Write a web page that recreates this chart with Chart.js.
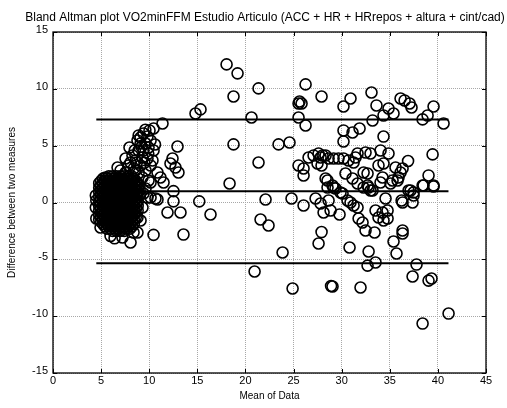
<!DOCTYPE html>
<html>
<head>
<meta charset="utf-8">
<title>Bland Altman VO2minFFM</title>
<script src="https://cdn.jsdelivr.net/npm/chart.js@4.4.0/dist/chart.umd.min.js"></script>
<style>
  body { margin: 0; background: #fff; }
  #plot { display: block; }
</style>
</head>
<body>
<canvas id="plot" width="507" height="408"></canvas>
<script>
var xTicks = [0, 5, 10, 15, 20, 25, 30, 35, 40, 45];
var yTicks = [-15, -10, -5, 0, 5, 10, 15];

// mean difference and limits of agreement (mean +/- 1.96 SD)
var limits = [7.31, 0.99, -5.34];
var limitSpan = [4.5, 41.1];

// [mean of methods, difference] - low VO2 subjects, packed tight
var densePts = [
  [5.8,2.3],[6.2,2.3],[6.6,2.3],[7.0,2.3],[7.4,2.3],[7.8,2.3],[8.2,2.3],
  [5.2,2.1],[5.6,2.1],[6.0,2.1],[6.4,2.1],[6.8,2.1],[7.2,2.1],[7.6,2.1],[8.0,2.1],[8.4,2.1],
  [5.0,1.9],[5.4,1.9],[5.8,1.9],[6.2,1.9],[6.6,1.9],[7.0,1.9],[7.4,1.9],[7.8,1.9],[8.2,1.9],[8.6,1.9],
  [4.8,1.7],[5.2,1.7],[5.6,1.7],[6.0,1.7],[6.4,1.7],[6.8,1.7],[7.2,1.7],[7.6,1.7],[8.0,1.7],[8.4,1.7],[8.8,1.7],
  [5.0,1.5],[5.4,1.5],[5.8,1.5],[6.2,1.5],[6.6,1.5],[7.0,1.5],[7.4,1.5],[7.8,1.5],[8.2,1.5],[8.6,1.5],[9.0,1.5],
  [4.8,1.3],[5.2,1.3],[5.6,1.3],[6.0,1.3],[6.4,1.3],[6.8,1.3],[7.2,1.3],[7.6,1.3],[8.0,1.3],[8.4,1.3],[8.8,1.3],
  [5.0,1.1],[5.4,1.1],[5.8,1.1],[6.2,1.1],[6.6,1.1],[7.0,1.1],[7.4,1.1],[7.8,1.1],[8.2,1.1],[8.6,1.1],[9.0,1.1],
  [4.8,0.9],[5.2,0.9],[5.6,0.9],[6.0,0.9],[6.4,0.9],[6.8,0.9],[7.2,0.9],[7.6,0.9],[8.0,0.9],[8.4,0.9],[8.8,0.9],
  [5.0,0.7],[5.4,0.7],[5.8,0.7],[6.2,0.7],[6.6,0.7],[7.0,0.7],[7.4,0.7],[7.8,0.7],[8.2,0.7],[8.6,0.7],[9.0,0.7],
  [4.8,0.5],[5.2,0.5],[5.6,0.5],[6.0,0.5],[6.4,0.5],[6.8,0.5],[7.2,0.5],[7.6,0.5],[8.0,0.5],[8.4,0.5],[8.8,0.5],
  [5.0,0.3],[5.4,0.3],[5.8,0.3],[6.2,0.3],[6.6,0.3],[7.0,0.3],[7.4,0.3],[7.8,0.3],[8.2,0.3],[8.6,0.3],
  [4.8,0.1],[5.2,0.1],[5.6,0.1],[6.0,0.1],[6.4,0.1],[6.8,0.1],[7.2,0.1],[7.6,0.1],[8.0,0.1],[8.4,0.1],[8.8,0.1],
  [5.0,-0.1],[5.4,-0.1],[5.8,-0.1],[6.2,-0.1],[6.6,-0.1],[7.0,-0.1],[7.4,-0.1],[7.8,-0.1],[8.2,-0.1],[8.6,-0.1],
  [4.8,-0.3],[5.2,-0.3],[5.6,-0.3],[6.0,-0.3],[6.4,-0.3],[6.8,-0.3],[7.2,-0.3],[7.6,-0.3],[8.0,-0.3],[8.4,-0.3],[8.8,-0.3],
  [5.0,-0.5],[5.4,-0.5],[5.8,-0.5],[6.2,-0.5],[6.6,-0.5],[7.0,-0.5],[7.4,-0.5],[7.8,-0.5],[8.2,-0.5],[8.6,-0.5],
  [4.8,-0.7],[5.2,-0.7],[5.6,-0.7],[6.0,-0.7],[6.4,-0.7],[6.8,-0.7],[7.2,-0.7],[7.6,-0.7],[8.0,-0.7],[8.4,-0.7],[8.8,-0.7],
  [5.0,-0.9],[5.4,-0.9],[5.8,-0.9],[6.2,-0.9],[6.6,-0.9],[7.0,-0.9],[7.4,-0.9],[7.8,-0.9],[8.2,-0.9],[8.6,-0.9],
  [4.8,-1.1],[5.2,-1.1],[5.6,-1.1],[6.0,-1.1],[6.4,-1.1],[6.8,-1.1],[7.2,-1.1],[7.6,-1.1],[8.0,-1.1],[8.4,-1.1],
  [5.0,-1.3],[5.4,-1.3],[5.8,-1.3],[6.2,-1.3],[6.6,-1.3],[7.0,-1.3],[7.4,-1.3],[7.8,-1.3],[8.2,-1.3],[8.6,-1.3],
  [4.8,-1.5],[5.2,-1.5],[5.6,-1.5],[6.0,-1.5],[6.4,-1.5],[6.8,-1.5],[7.2,-1.5],[7.6,-1.5],[8.0,-1.5],[8.4,-1.5],
  [5.0,-1.7],[5.4,-1.7],[5.8,-1.7],[6.2,-1.7],[6.6,-1.7],[7.0,-1.7],[7.4,-1.7],[7.8,-1.7],[8.2,-1.7],
  [5.2,-1.9],[5.6,-1.9],[6.0,-1.9],[6.4,-1.9],[6.8,-1.9],[7.2,-1.9],[7.6,-1.9],[8.0,-1.9],[8.4,-1.9],
  [5.4,-2.1],[5.8,-2.1],[6.2,-2.1],[6.6,-2.1],[7.0,-2.1],[7.4,-2.1],[7.8,-2.1],[8.2,-2.1],
  [5.6,-2.3],[6.0,-2.3],[6.4,-2.3],[6.8,-2.3],[7.2,-2.3],[7.6,-2.3],[8.0,-2.3],
  [6.2,-2.5],[6.6,-2.5],[7.0,-2.5],[7.4,-2.5],
  [4.45,0.62],[4.45,-0.44],[4.5,-1.41],[4.94,-2.2],[5.98,-2.95],[6.4,-3.15],[7.22,-3.08],[8.06,-3.52],
  [8.78,-2.64],[9.1,-1.58],[9.3,-0.44],[9.82,0.44],[4.5,0.18],[5.46,2.2],[6.71,3.08],
  [8.26,4.14],[8.89,4.58],[9.41,4.58],[8.58,2.82],[9.1,3.26],[9.62,2.82],[10.14,3.26],[10.34,3.7],
  [7.85,3.26],[7.54,2.64],[8.26,2.11],[8.89,1.5],[9.41,0.79],[7.54,3.87],[7.02,2.82],
  [8.4,3.0],[8.9,2.6],[9.3,2.2],[8.7,3.5],[9.5,3.5],[9.9,4.3],[8.5,4.6],[9.2,4.9],[10.6,5.1],[9.6,6.4],[8.9,5.9]
];

// [mean of methods, difference] - the rest of the sample
var sparsePts = [
  [11.38,6.95],[10.03,6.34],[10.45,6.51],[9.41,6.07],[9.82,5.81],[10.14,5.46],[9.1,5.72],[8.78,5.46],
  [9.62,5.19],[9.93,4.84],[10.45,4.58],[7.95,4.84],[12.94,4.93],[12.42,3.87],[12.21,3.43],[12.73,3.08],
  [13.04,2.64],[11.49,1.76],[12.52,1.0],[10.86,0.26],[10.14,0.44],[11.9,-0.88],[13.25,-0.88],[12.52,0.1],
  [10.45,-2.85],[13.56,-2.82],[15.2,0.1],[14.81,7.83],[15.33,8.19],[8.58,3.7],[8.06,3.52],[9.3,3.96],
  [9.82,3.87],[10.86,2.64],[11.17,2.2],[10.14,1.76],[9.62,1.23],[8.37,-2.64],[8.78,-1.32],[9.1,5.19],
  [10.65,0.35],[9.93,1.94],[16.37,-1.06],
  [18.04,12.15],[19.18,11.36],[21.36,10.04],[18.76,9.33],[26.25,10.39],[27.91,9.33],[25.62,8.89],[25.83,8.71],
  [25.52,8.71],[20.63,7.48],[25.52,7.48],[26.25,6.78],[18.76,5.11],[23.44,5.11],[24.58,5.28],[21.36,3.52],
  [25.52,3.26],[26.04,2.99],[26.04,2.38],[26.56,3.96],[27.08,4.14],[27.6,4.31],[28.01,4.14],[27.49,3.43],
  [27.91,3.26],[28.33,2.11],[18.35,1.67],[22.09,0.26],[24.79,0.35],[21.57,-1.5],[22.4,-2.02],[23.86,-4.4],
  [20.95,-6.07],[24.9,-7.57],[28.9,-7.35],
  [30.19,8.45],[30.92,9.15],[33.1,9.68],[33.62,8.54],[34.35,7.66],[34.87,8.27],[35.39,7.83],[36.12,9.15],
  [36.54,8.98],[37.06,8.71],[37.26,8.36],[38.41,7.31],[38.93,7.66],[39.55,8.45],[40.59,6.95],[33.21,7.22],
  [34.35,5.8],[30.19,6.34],[31.13,6.16],[31.86,6.51],[30.19,5.37],[39.45,4.23],[36.9,3.65],
  [27.81,3.96],[28.33,4.14],[28.64,3.87],[29.16,3.87],[29.67,3.87],[30.19,3.87],[30.71,3.7],[31.24,3.52],
  [31.44,3.96],[31.65,4.31],[32.48,4.4],[33.0,4.31],[34.04,4.58],[34.87,4.31],[34.35,3.43],[33.83,3.26],
  [30.4,2.55],[31.13,2.11],[31.65,1.67],[32.28,2.64],[32.69,2.55],[32.8,1.32],[33.21,1.06],[34.25,2.2],
  [28.53,1.94],[29.05,1.5],[29.36,1.23],[29.88,0.88],
  [35.6,3.08],[36.12,2.64],[36.33,2.99],[35.91,2.2],[35.81,1.94],[35.29,1.94],[35.08,1.67],[39.03,2.38],
  [38.41,1.5],[39.55,1.5],[36.95,1.06],[37.47,0.62],[36.23,0.18],[34.77,-0.7],[34.77,-1.41],[36.33,-2.46],
  [28.53,1.32],[29.16,1.32],[30.09,0.79],[32.28,1.32],[32.69,1.5],[33.0,1.06],[34.04,1.76],[37.16,1.06],
  [37.47,0.88],[38.51,1.5],[39.55,1.41],[27.29,0.35],[27.81,-0.09],[28.12,-0.88],[28.64,0.18],[28.85,-0.7],
  [29.78,-1.06],[26.04,-0.26],[30.92,0.0],[31.65,-0.44],[31.76,-1.41],[32.17,-1.76],[32.48,-2.46],[33.42,-2.64],
  [33.52,-0.7],[34.25,-0.88],[34.35,-1.58],[34.56,0.35],[36.33,0.0],[37.37,0.0],[27.91,-2.6],[27.6,-3.61],
  [30.82,-3.96],[32.8,-4.31],[32.69,-5.55],[33.52,-5.28],[35.39,-3.43],[36.33,-2.73],[35.7,-4.49],[37.78,-5.46],
  [37.37,-6.51],[39.03,-6.87],[39.34,-6.69],[29.05,-7.39],[31.96,-7.48],[41.11,-9.77],[38.41,-10.65],
  [30.61,0.18],[31.24,-0.26],[33.83,-1.32]
];

Chart.defaults.font.family = '"Liberation Sans", Arial, Helvetica, sans-serif';
Chart.defaults.color = '#000';

function toXY(p) { return {x: p[0], y: p[1]}; }

var datasets = [{
  data: densePts.concat(sparsePts).map(toXY),
  borderColor: '#000',
  backgroundColor: 'rgba(0,0,0,0)',
  pointRadius: 5.5,
  pointHoverRadius: 5.5,
  pointBorderWidth: 1.6
}];

limits.forEach(function (v) {
  datasets.push({
    data: limitSpan.map(function (x) { return {x: x, y: v}; }),
    showLine: true,
    borderColor: '#000',
    borderWidth: 2,
    pointRadius: 0,
    fill: false
  });
});

// box round the axes with inward tick marks, plus the title above the axes
var axesBox = {
  id: 'axesBox',
  afterDraw: function (chart) {
    var ctx = chart.ctx, a = chart.chartArea;
    var sx = chart.scales.x, sy = chart.scales.y;
    ctx.save();
    ctx.strokeStyle = '#000';
    ctx.lineWidth = 1;
    ctx.beginPath();
    xTicks.forEach(function (v) {
      var px = Math.round(sx.getPixelForValue(v)) + 0.5;
      ctx.moveTo(px, a.bottom); ctx.lineTo(px, a.bottom - 4);
      ctx.moveTo(px, a.top); ctx.lineTo(px, a.top + 4);
    });
    yTicks.forEach(function (v) {
      var py = Math.round(sy.getPixelForValue(v)) + 0.5;
      ctx.moveTo(a.left, py); ctx.lineTo(a.left + 4, py);
      ctx.moveTo(a.right, py); ctx.lineTo(a.right - 4, py);
    });
    ctx.stroke();
    ctx.lineWidth = 1.3;
    ctx.strokeRect(a.left, a.top, a.right - a.left, a.bottom - a.top);

    ctx.fillStyle = '#000';
    ctx.font = '12px "Liberation Sans", Arial, sans-serif';
    ctx.textAlign = 'center';
    ctx.textBaseline = 'alphabetic';
    ctx.fillText('Bland Altman plot VO2minFFM Estudio Articulo (ACC + HR + HRrepos + altura + cint/cad)', 265, 21);
    ctx.restore();
  }
};

new Chart(document.getElementById('plot'), {
  type: 'scatter',
  data: { datasets: datasets },
  plugins: [axesBox],
  options: {
    responsive: false,
    animation: false,
    devicePixelRatio: 1,
    events: [],
    layout: { padding: { top: 32, right: 21, left: 0, bottom: 0 } },
    plugins: { legend: { display: false }, tooltip: { enabled: false } },
    scales: {
      x: {
        type: 'linear',
        min: 0, max: 45,
        afterBuildTicks: function (s) { s.ticks = xTicks.map(function (v) { return {value: v}; }); },
        afterFit: function (s) { s.height = 35; },
        ticks: { font: { size: 11 }, padding: 1, maxRotation: 0 },
        grid: { color: '#a8a8a8', lineWidth: 1, drawTicks: false },
        border: { display: false, dash: [1, 1] },
        title: { display: true, text: 'Mean of Data', font: { size: 10 }, padding: { top: 0, bottom: 6 } }
      },
      y: {
        type: 'linear',
        min: -15, max: 15,
        afterBuildTicks: function (s) { s.ticks = yTicks.map(function (v) { return {value: v}; }); },
        afterFit: function (s) { s.width = 53; },
        ticks: { font: { size: 11 }, padding: 5, labelOffset: -2 },
        grid: { color: '#a8a8a8', lineWidth: 1, drawTicks: false },
        border: { display: false, dash: [1, 1] },
        title: { display: true, text: 'Difference between two measures', font: { size: 10 }, padding: { top: 6, bottom: 0 } }
      }
    }
  }
});
</script>
</body>
</html>
